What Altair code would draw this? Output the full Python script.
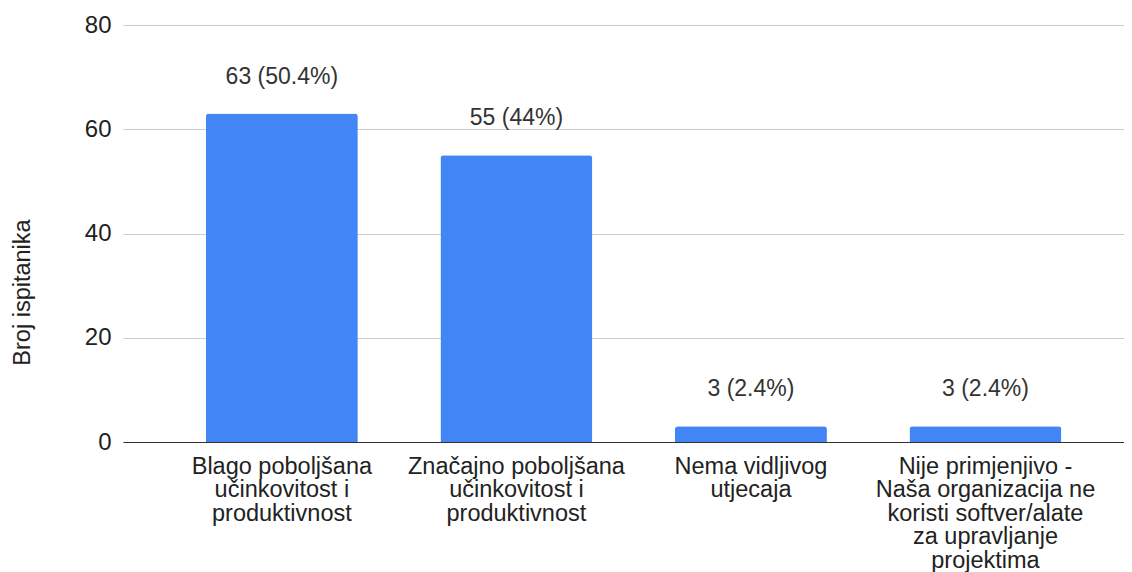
import altair as alt
import pandas as pd

categories = [
    "Blago poboljšana\nučinkovitost i\nproduktivnost",
    "Značajno poboljšana\nučinkovitost i\nproduktivnost",
    "Nema vidljivog\nutjecaja",
    "Nije primjenjivo -\nNaša organizacija ne\nkoristi softver/alate\nza upravljanje\nprojektima",
]
counts = [63, 55, 3, 3]
percents = [50.4, 44, 2.4, 2.4]
y_ticks = [0, 20, 40, 60, 80]

bar_labels = [f"{c} ({p:g}%)" for c, p in zip(counts, percents)]
df = pd.DataFrame({"kategorija": categories, "broj": counts, "oznaka": bar_labels})

FONT = "Liberation Sans"

x = alt.X(
    "kategorija:N",
    sort=None,
    title=None,
    scale=alt.Scale(paddingInner=0.352, paddingOuter=0.31, align=0.57),
    axis=alt.Axis(
        labelAngle=0,
        labelExpr="split(datum.label, '\\n')",
        labelFontSize=23.5,
        labelFont=FONT,
        labelColor="#222222",
        labelLineHeight=23.5,
        labelPadding=12,
        labelLimit=400,
        ticks=False,
        domainColor="#333333",
        domainWidth=1.2,
        grid=False,
    ),
)
y = alt.Y(
    "broj:Q",
    title="Broj ispitanika",
    scale=alt.Scale(domain=[0, 80], nice=False),
    axis=alt.Axis(
        values=y_ticks,
        domain=False,
        ticks=False,
        labelFontSize=24,
        labelFont=FONT,
        labelColor="#222222",
        labelPadding=12,
        titleFontSize=23.5,
        titleFont=FONT,
        titleFontWeight="normal",
        titleColor="#222222",
        titlePadding=50,
        titleY=267,
        gridColor="#cccccc",
        gridWidth=1,
    ),
)

bars = alt.Chart(df).mark_bar(
    color="#4285F4", cornerRadiusTopLeft=3, cornerRadiusTopRight=3
).encode(x=x, y=y)

text = alt.Chart(df).mark_text(
    baseline="middle", dy=-37, fontSize=23, font=FONT, color="#333333"
).encode(x=x, y=y, text="oznaka:N")

chart = (
    alt.layer(bars, text)
    .properties(
        width=1001,
        height=417,
        padding={"left": 2, "top": 5, "right": 0, "bottom": 0},
    )
    .configure_view(stroke=None)
)

chart.save("out.html", embed_options={"renderer": "svg", "actions": False})
